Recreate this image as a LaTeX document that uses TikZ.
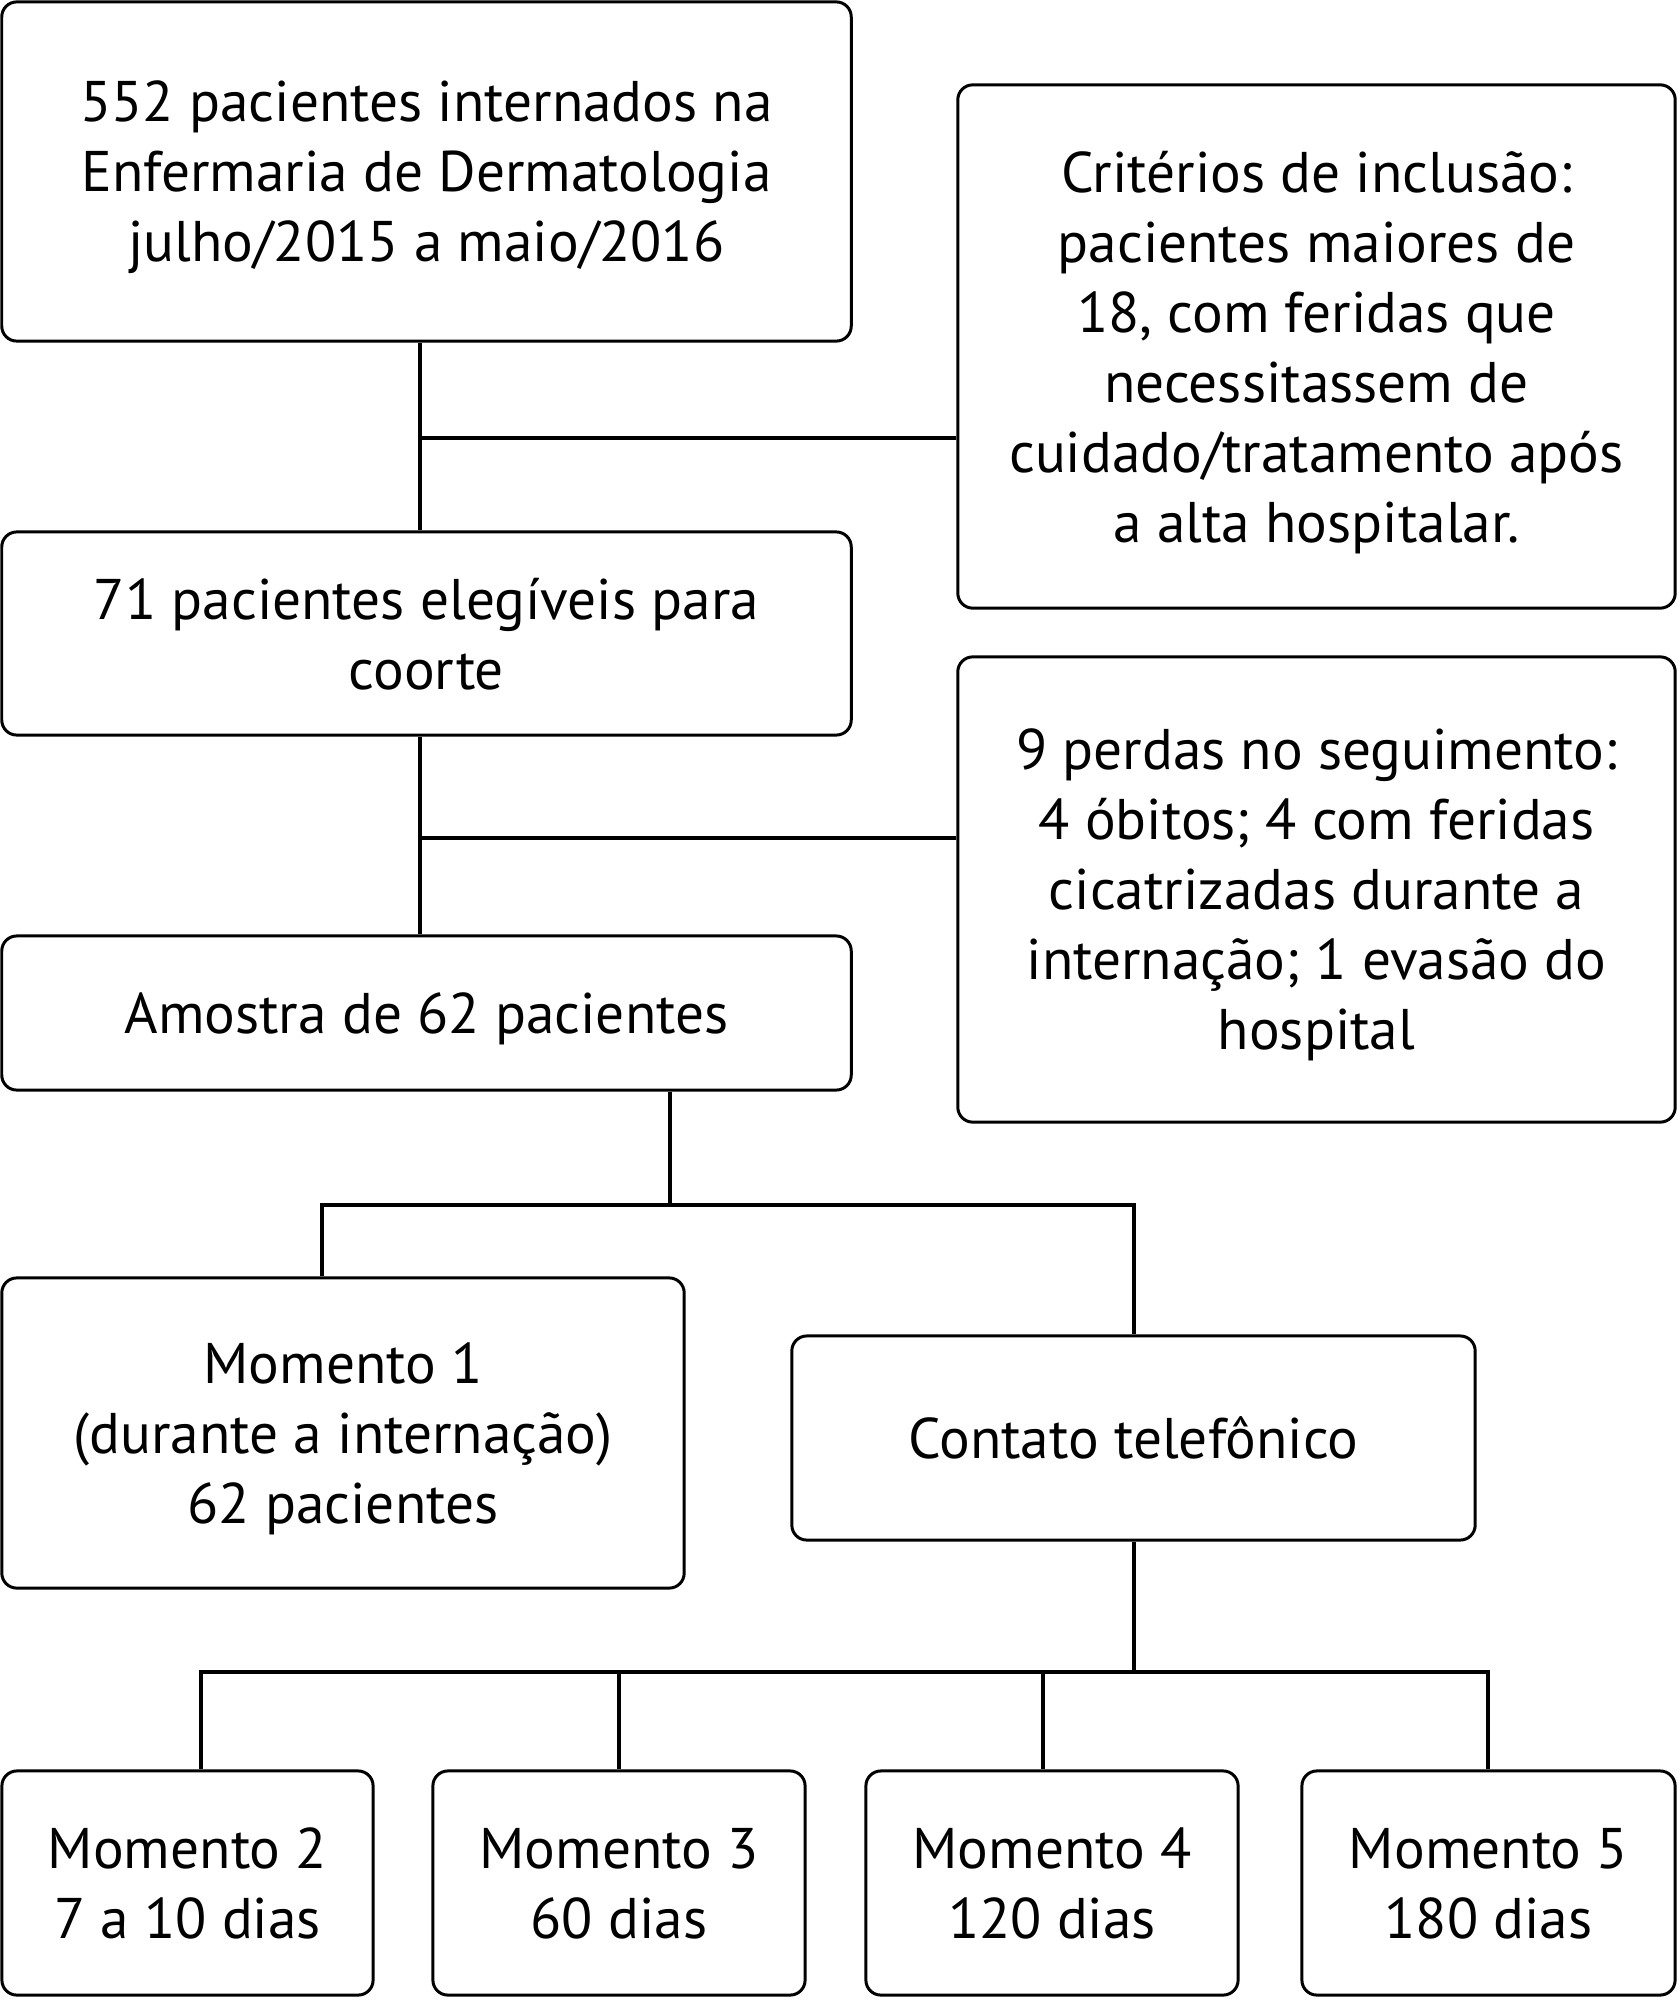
\documentclass[tikz,border=0pt]{standalone}
\usepackage{fontspec}
\setmainfont{PT Sans}
\begin{document}
\begin{tikzpicture}[x=0.01cm, y=-0.01cm]
        \tikzstyle{box}=[rectangle, rounded corners=0.15cm, draw=black, line width=0.85pt, fill=white, align=center, inner sep=0pt, text depth=0pt, font=\fontsize{16.3}{19.9}\selectfont]
        \tikzstyle{link}=[line width=1.4pt]
        \useasboundingbox (0,0) rectangle (1680,2000);
        \begin{scope}
          \node [box, minimum width=8.49cm, minimum height=3.39cm] (total) at (426.5,171.5) {552 pacientes internados na\\Enfermaria de Dermatologia\\julho/2015 a maio/2016};
          \node [box, minimum width=7.17cm, minimum height=5.23cm] (criterios) at (1316.5,346.5) {Critérios de inclusão:\\pacientes maiores de\\18, com feridas que\\necessitassem de\\cuidado/tratamento após\\a alta hospitalar.};
          \node [box, minimum width=8.49cm, minimum height=2.03cm] (elegiveis) at (426.5,633.5) {71 pacientes elegíveis para\\coorte};
          \node [box, minimum width=7.17cm, minimum height=4.65cm] (perdas) at (1316.5,889.5) {9 perdas no seguimento:\\4 óbitos; 4 com feridas\\cicatrizadas durante a\\internação; 1 evasão do\\hospital};
          \node [box, minimum width=8.49cm, minimum height=1.54cm] (amostra) at (426.5,1013) {Amostra de 62 pacientes};
          \node [box, minimum width=6.82cm, minimum height=3.10cm] (mom1) at (343,1433) {Momento 1\\(durante a internação)\\62 pacientes};
          \node [box, minimum width=6.83cm, minimum height=2.04cm] (contato) at (1133.5,1438) {Contato telefônico};
          \node [box, minimum width=3.71cm, minimum height=2.24cm] (mom2) at (187.5,1883) {Momento 2\\7 a 10 dias};
          \node [box, minimum width=3.72cm, minimum height=2.24cm] (mom3) at (619,1883) {Momento 3\\60 dias};
          \node [box, minimum width=3.72cm, minimum height=2.24cm] (mom4) at (1052,1883) {Momento 4\\120 dias};
          \node [box, minimum width=3.73cm, minimum height=2.24cm] (mom5) at (1488.5,1883) {Momento 5\\180 dias};
        \end{scope}
        \coordinate (j1) at (420,438);
        \coordinate (j2) at (420,838);
        \coordinate (j3) at (670,1205);
        \coordinate (j3a) at (322,1205);
        \coordinate (j3b) at (1134,1205);
        \coordinate (j4) at (1134,1672);
        \coordinate (j4a) at (201,1672);
        \coordinate (j4b) at (619,1672);
        \coordinate (j4c) at (1043,1672);
        \coordinate (j4d) at (1488,1672);
        \draw [link] (total.south -| j1) -- (elegiveis.north -| j1);
        \draw [link] (j1) -- (j1 -| criterios.west);
        \draw [link] (elegiveis.south -| j2) -- (amostra.north -| j2);
        \draw [link] (j2) -- (j2 -| perdas.west);
        \draw [link] (amostra.south -| j3) -- (j3);
        \draw [link] (mom1.north -| j3a) -- (j3a) -- (j3b) -- (contato.north -| j3b);
        \draw [link] (contato.south -| j4) -- (j4);
        \draw [link] (mom2.north -| j4a) -- (j4a) -- (j4d) -- (mom5.north -| j4d);
        \draw [link] (j4b) -- (mom3.north -| j4b);
        \draw [link] (j4c) -- (mom4.north -| j4c);
\end{tikzpicture}
\end{document}
